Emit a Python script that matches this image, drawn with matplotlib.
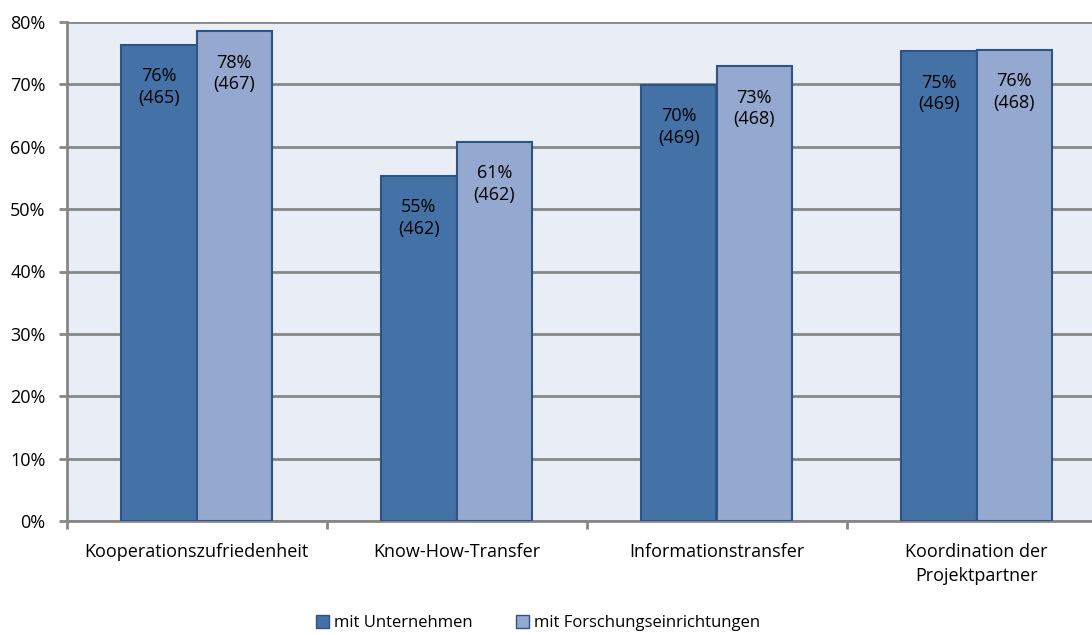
import matplotlib
matplotlib.use("Agg")
import matplotlib.pyplot as plt
import numpy as np
from matplotlib.patches import Patch

categories = ["Kooperationszufriedenheit", "Know-How-Transfer", "Informationstransfer", "Koordination der\nProjektpartner"]
series_names = ["mit Unternehmen", "mit Forschungseinrichtungen"]
unternehmen = [76.3, 55.3, 69.9, 75.3]
forschung = [78.5, 60.8, 72.9, 75.5]
unternehmen_labels = ["76%\n(465)", "55%\n(462)", "70%\n(469)", "75%\n(469)"]
forschung_labels = ["78%\n(467)", "61%\n(462)", "73%\n(468)", "76%\n(468)"]
yticks = [0, 10, 20, 30, 40, 50, 60, 70, 80]

plt.rcParams['font.family'] = ['Open Sans', 'DejaVu Sans']
FS = 13
W, H = 1092, 635
fig = plt.figure(figsize=(W/100, H/100), dpi=100)
ax = fig.add_axes([66.5/W, (H-521)/H, 1040/W, (521-22)/H])
ax.set_facecolor("#E9EDF5")

x = np.arange(len(categories))
bw = 0.29
dark, dark_edge = "#4472A6", "#2E5385"
light, light_edge = "#95A9D0", "#2E5385"
b1 = ax.bar(x - bw/2, unternehmen, bw, color=dark, edgecolor=dark_edge, linewidth=1.5, zorder=3)
b2 = ax.bar(x + bw/2, forschung, bw, color=light, edgecolor=light_edge, linewidth=1.5, zorder=3)

for bars, labels in ((b1, unternehmen_labels), (b2, forschung_labels)):
    for r, lab in zip(bars, labels):
        ax.annotate(lab, (r.get_x() + r.get_width()/2, r.get_height()),
                    xytext=(0, -42), textcoords="offset pixels",
                    ha="center", va="center", fontsize=FS, color="black",
                    linespacing=1.25, zorder=4)

ax.set_xlim(-0.5, 3.5)
ax.set_ylim(0, 80)
ax.set_yticks(yticks)
ax.set_yticklabels([f"{v}%" for v in yticks], fontsize=FS)
ax.yaxis.grid(True, color="#878787", linewidth=2, zorder=1)
ax.set_axisbelow(True)

ax.set_xticks(np.arange(-0.5, 3.6, 1.0))
ax.set_xticklabels([])
ax.set_xticks(x, minor=True)
ax.set_xticklabels(categories, minor=True, fontsize=FS, linespacing=1.4)
ax.tick_params(axis="x", which="minor", length=0, pad=16)
ax.tick_params(axis="x", which="major", length=6, width=2, color="#878787")
ax.tick_params(axis="y", length=6, width=2, color="#878787", pad=9)

for s in ["top", "right"]:
    ax.spines[s].set_visible(False)
for s in ["left", "bottom"]:
    ax.spines[s].set_color("#878787")
    ax.spines[s].set_linewidth(2)

handles = [Patch(facecolor=dark, edgecolor=dark_edge), Patch(facecolor=light, edgecolor=light_edge)]
fig.legend(handles, series_names, loc="center", bbox_to_anchor=(538/W, 1 - 623/H),
           ncol=2, frameon=False, fontsize=12, handlelength=0.8, handleheight=0.8,
           handletextpad=0.3, columnspacing=2.6)

fig.savefig("out.png", dpi=100)
